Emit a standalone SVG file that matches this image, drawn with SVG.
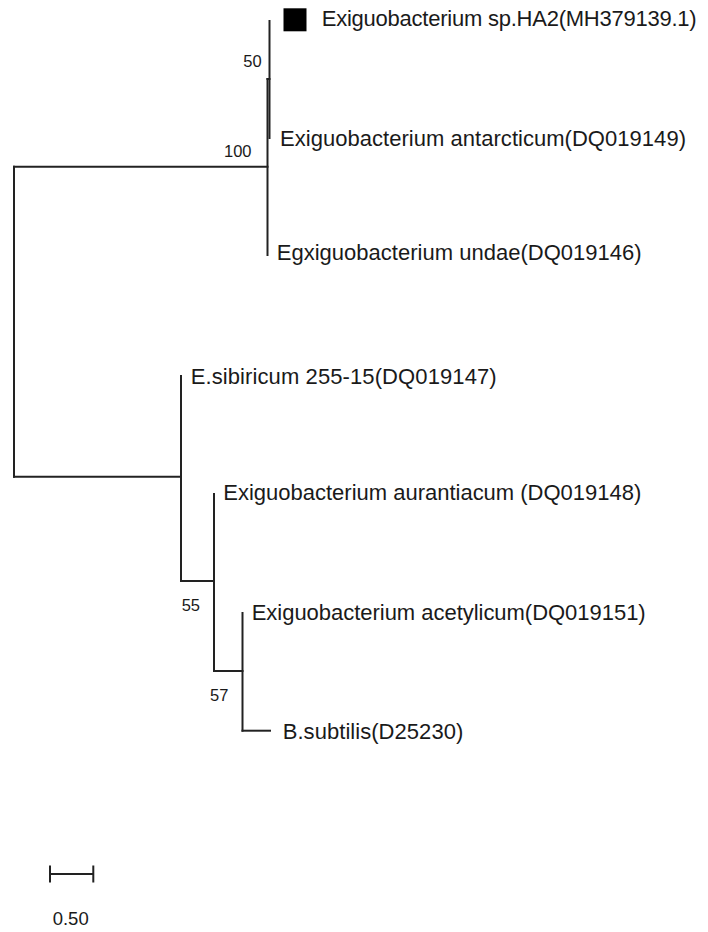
<svg xmlns="http://www.w3.org/2000/svg" width="708" height="932" viewBox="0 0 708 932">
<style>
  .br { stroke: #222; stroke-width: 2; fill: none; stroke-linecap: square; }
  .lbl { font-family: "Liberation Sans", Arial, sans-serif; font-size: 22px; fill: #1a1a1a; }
  .bs { font-family: "Liberation Sans", Arial, sans-serif; font-size: 16.5px; fill: #1a1a1a; }
  .sc { font-family: "Liberation Sans", Arial, sans-serif; font-size: 18.5px; fill: #1a1a1a; }
</style>
<rect width="708" height="932" fill="#fff"/>
<g id="connectors">
  <path class="br" d="M14,166.7 V476.7"/>
  <path class="br" d="M14,166.7 H267.5"/>
  <path class="br" d="M267.5,79 V255"/>
  <path class="br" d="M267.5,79 H269.5"/>
  <path class="br" d="M269.5,21 V138"/>
  <path class="br" d="M14,476.7 H181"/>
  <path class="br" d="M181,376 V581"/>
  <path class="br" d="M181,581 H214"/>
  <path class="br" d="M214,494 V671"/>
  <path class="br" d="M214,671 H242.5"/>
  <path class="br" d="M242.5,613 V730.7"/>
  <path class="br" d="M242.5,730.7 H270"/>
</g>
<g id="node-ha2">
  <rect x="283.5" y="8.3" width="23" height="23" fill="#000"/>
  <text class="lbl" x="321.7" y="26" textLength="375" lengthAdjust="spacing">Exiguobacterium sp.HA2(MH379139.1)</text>
</g>
<g id="node-antarcticum">
  <text class="lbl" x="280" y="146" textLength="406" lengthAdjust="spacing">Exiguobacterium antarcticum(DQ019149)</text>
</g>
<g id="node-undae">
  <text class="lbl" x="276.7" y="260" textLength="365" lengthAdjust="spacing">Egxiguobacterium undae(DQ019146)</text>
</g>
<g id="node-sibiricum">
  <text class="lbl" x="190.7" y="384" textLength="306" lengthAdjust="spacing">E.sibiricum 255-15(DQ019147)</text>
</g>
<g id="node-aurantiacum">
  <text class="lbl" x="223.3" y="500" textLength="418" lengthAdjust="spacing">Exiguobacterium aurantiacum (DQ019148)</text>
</g>
<g id="node-acetylicum">
  <text class="lbl" x="251.7" y="620" textLength="394" lengthAdjust="spacing">Exiguobacterium acetylicum(DQ019151)</text>
</g>
<g id="node-subtilis">
  <text class="lbl" x="282.7" y="739" textLength="180.6" lengthAdjust="spacing">B.subtilis(D25230)</text>
</g>
<g id="bootstrap">
  <text class="bs" x="243.3" y="66.7">50</text>
  <text class="bs" x="224" y="157">100</text>
  <text class="bs" x="181.7" y="610.7">55</text>
  <text class="bs" x="210" y="701">57</text>
</g>
<g id="scale">
  <path class="br" stroke-linecap="butt" d="M50,874 H93.3 M50,866.5 V881.5 M93.3,866.5 V881.5"/>
  <text class="sc" x="52.7" y="925">0.50</text>
</g>
</svg>
